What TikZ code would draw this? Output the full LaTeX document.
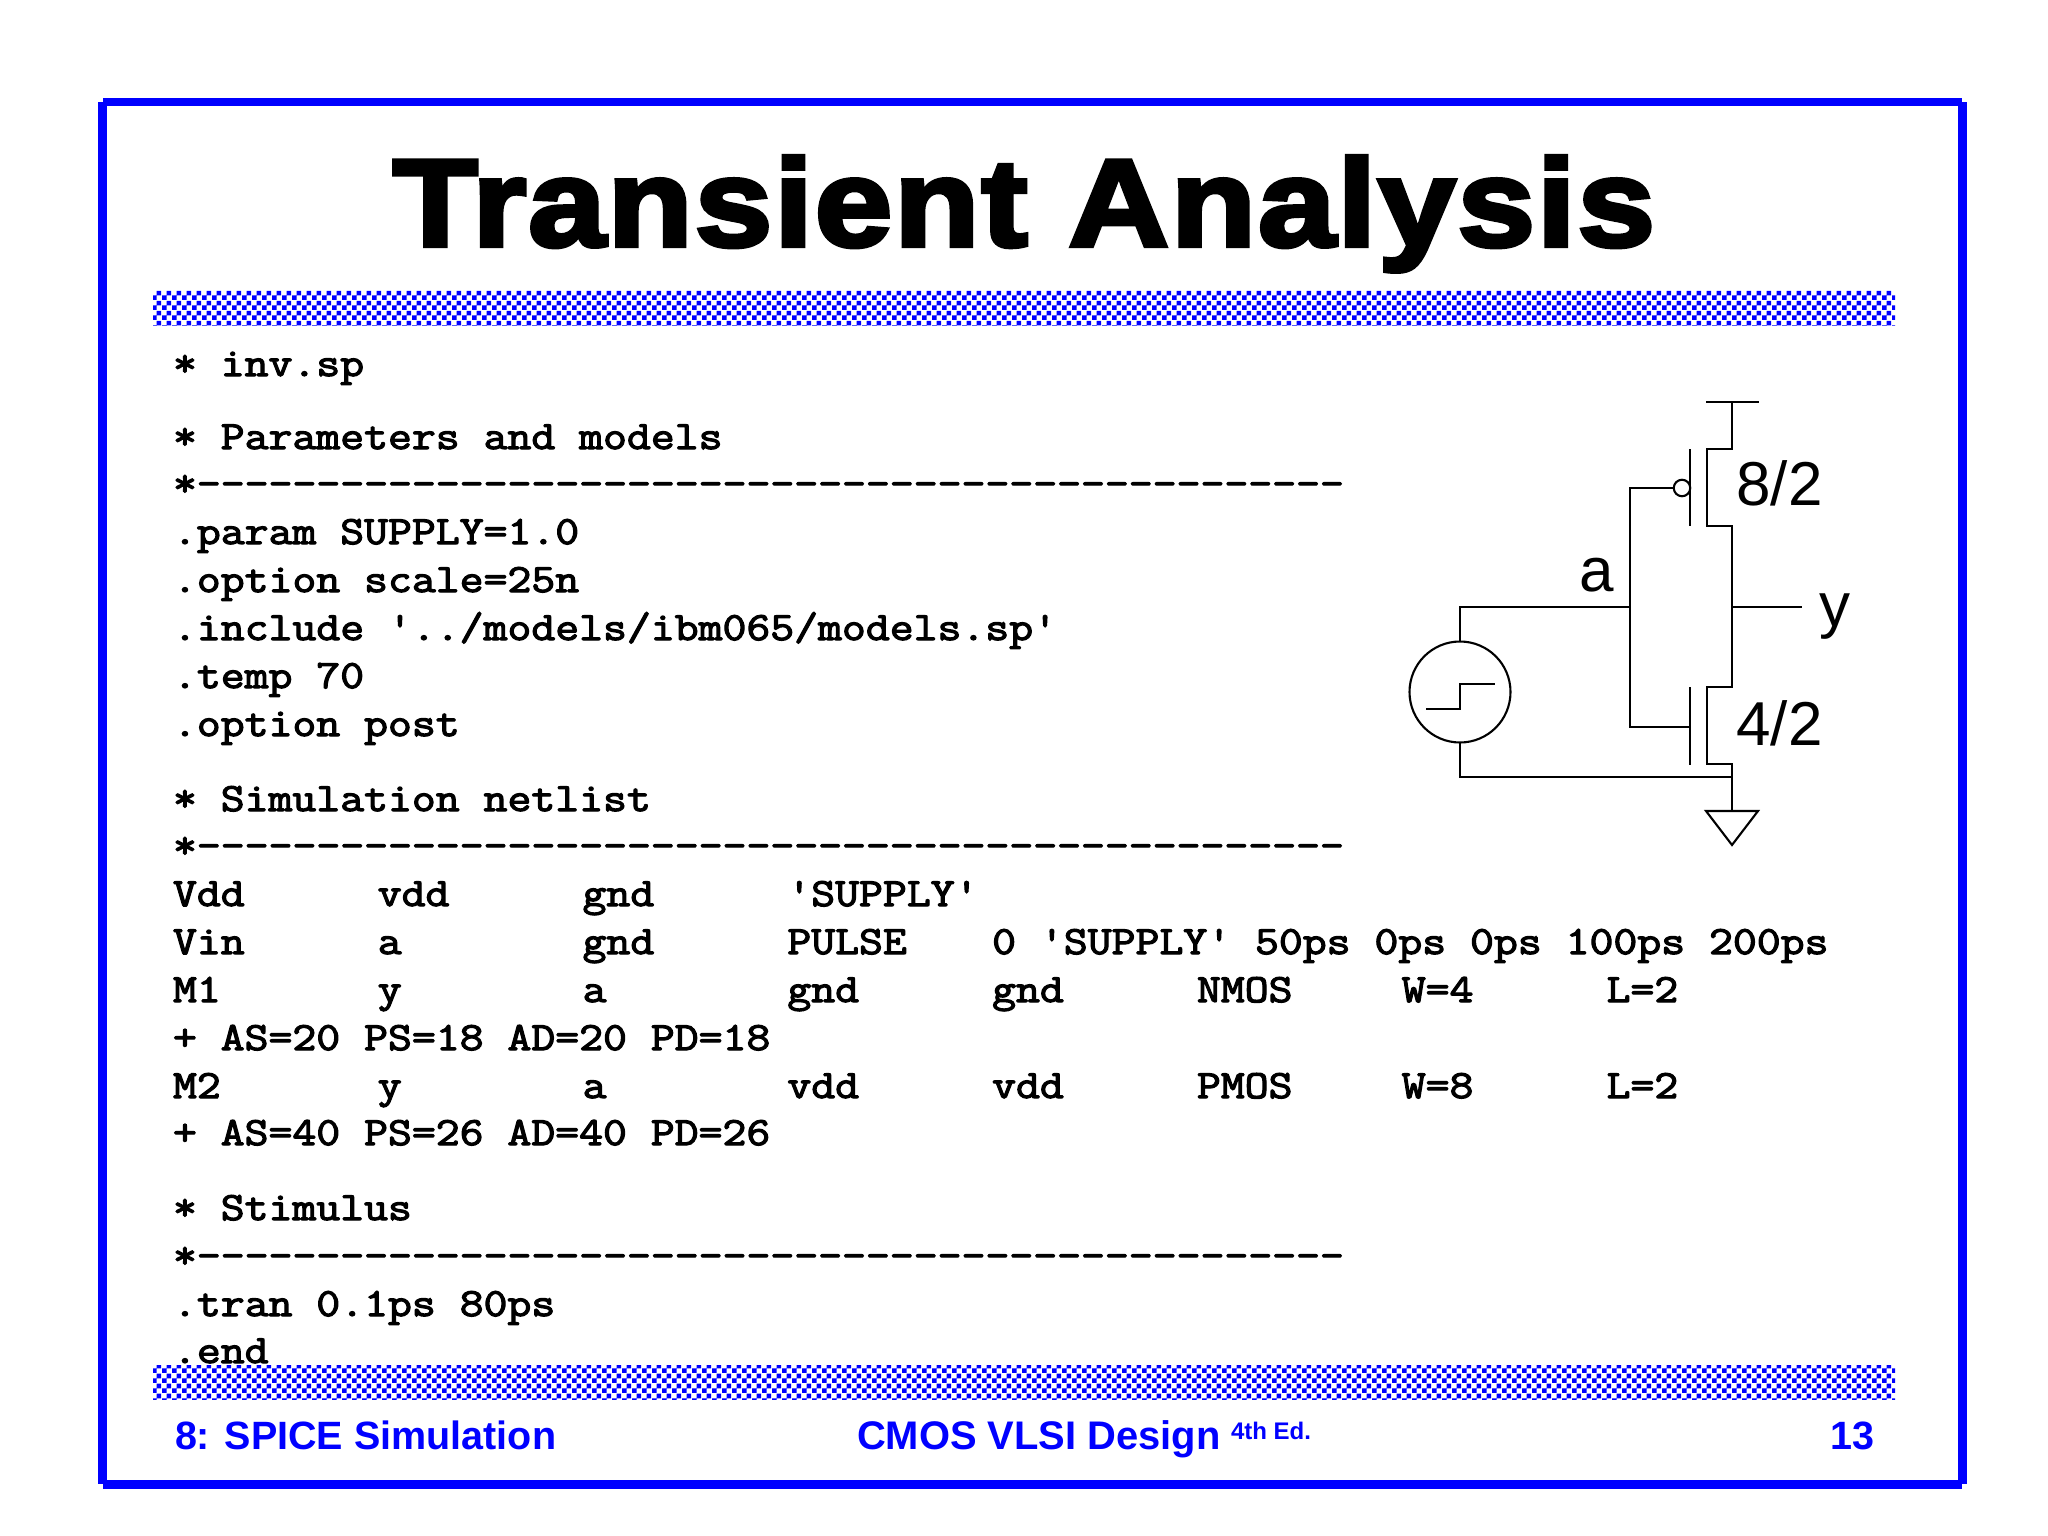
\documentclass[tikz,border=0pt]{standalone}
\usepackage{fontspec}
\usetikzlibrary{patterns}
\setmainfont{Liberation Sans}
\newfontfamily\titlefont[FakeBold=3.6,FakeStretch=1.125,LetterSpace=1.5]{Liberation Sans Bold}
\newfontfamily\codefont[FakeStretch=1.16,FakeBold=3]{Latin Modern Mono}
\newfontfamily\footfont{Liberation Sans Bold}
\definecolor{slideblue}{RGB}{0,0,255}
\pgfdeclarepatternformonly{slidecheck}{\pgfqpoint{0pt}{0pt}}{\pgfqpoint{9.5pt}{9.5pt}}{\pgfqpoint{9.5pt}{9.5pt}}{%
  \pgfpathrectangle{\pgfqpoint{0pt}{0pt}}{\pgfqpoint{4.75pt}{4.75pt}}%
  \pgfpathrectangle{\pgfqpoint{4.75pt}{4.75pt}}{\pgfqpoint{4.75pt}{4.75pt}}%
  \pgfusepath{fill}}
\newcommand{\codesize}{\fontsize{40}{40}\selectfont}
\newcommand{\cl}[1]{\makebox[204.8pt][l]{#1}}
\tikzset{
  x=1pt,y=-1pt,
  band/.style={pattern=slidecheck,pattern color=slideblue},
  framebar/.style={fill=slideblue},
  code/.style={anchor=base west,inner sep=0pt,outer sep=0pt,font=\codefont\codesize},
  foot/.style={inner sep=0pt,outer sep=0pt,text=slideblue,font=\footfont\fontsize{39.5}{40}\selectfont},
  lbl/.style={inner sep=0pt,outer sep=0pt,anchor=base west,font=\fontsize{62}{62}\selectfont},
  wire/.style={line width=2.1pt,line join=miter},
}
\begin{document}
\begin{tikzpicture}
\useasboundingbox (0,0) rectangle (2048,1536);
\fill[white] (0,0) rectangle (2048,1536);
\fill[framebar] (103,98) rectangle (1962,106.5);
\fill[framebar] (103,1480) rectangle (1962,1488.5);
\fill[framebar] (98,102) rectangle (106.5,1484);
\fill[framebar] (1958,102) rectangle (1966.5,1484);
\fill[band] (153,290) rectangle (1895,325);
\fill[band] (153,1365) rectangle (1895,1399);
\node[anchor=base,inner sep=0pt,font=\titlefont\fontsize{124}{124}\selectfont] (title) at (1024,246) {Transient Analysis};
\node[code] (l1) at (173,376) {* inv.sp};
\node[code] (l2) at (173,449) {* Parameters and models};
\node[code] (l3) at (173,496) {*------------------------------------------------};
\node[code] (l4) at (173,544) {.param SUPPLY=1.0};
\node[code] (l5) at (173,592) {.option scale=25n};
\node[code] (l6) at (173,640) {.include '../models/ibm065/models.sp'};
\node[code] (l7) at (173,688) {.temp 70};
\node[code] (l8) at (173,736) {.option post};
\node[code] (l9) at (173,811) {* Simulation netlist};
\node[code] (l10) at (173,858) {*------------------------------------------------};
\node[code] (l11) at (173,906) {\cl{Vdd}\cl{vdd}\cl{gnd}'SUPPLY'};
\node[code] (l12) at (173,954) {\cl{Vin}\cl{a}\cl{gnd}\cl{PULSE}0 'SUPPLY' 50ps 0ps 0ps 100ps 200ps};
\node[code] (l13) at (173,1002) {\cl{M1}\cl{y}\cl{a}\cl{gnd}\cl{gnd}\cl{NMOS}\cl{W=4}L=2};
\node[code] (l14) at (173,1050) {+ AS=20 PS=18 AD=20 PD=18};
\node[code] (l15) at (173,1098) {\cl{M2}\cl{y}\cl{a}\cl{vdd}\cl{vdd}\cl{PMOS}\cl{W=8}L=2};
\node[code] (l16) at (173,1145) {+ AS=40 PS=26 AD=40 PD=26};
\node[code] (l17) at (173,1220) {* Stimulus};
\node[code] (l18) at (173,1268) {*------------------------------------------------};
\node[code] (l19) at (173,1316) {.tran 0.1ps 80ps};
\node[code] (l20) at (173,1363) {.end};
\node[foot,anchor=base west] (f1) at (175,1449) {8: SPICE Simulation};
\node[foot,anchor=base west,font=\footfont\fontsize{39.9}{40}\selectfont] (f2) at (857,1449) {CMOS VLSI Design};
\node[foot,anchor=base west,font=\footfont\fontsize{24}{24}\selectfont] (f3) at (1231,1439) {4th Ed.};
\node[foot,anchor=base east] (f4) at (1874,1449) {13};
% schematic
\coordinate (vl) at (1706,402); \coordinate (vr) at (1759,402); \coordinate (vm) at (1732,402);
\coordinate (pd1) at (1732,449); \coordinate (pd2) at (1707,449);
\coordinate (pd3) at (1707,526); \coordinate (pd4) at (1732,526);
\coordinate (nd1) at (1732,687); \coordinate (nd2) at (1707,687);
\coordinate (nd3) at (1707,764); \coordinate (nd4) at (1732,764);
\coordinate (gndtop) at (1732,811);
\coordinate (gl) at (1706,811); \coordinate (gr) at (1758,811); \coordinate (ga) at (1732,845);
\coordinate (pg1) at (1690,449); \coordinate (pg2) at (1690,526);
\coordinate (ng1) at (1690,687); \coordinate (ng2) at (1690,765); \coordinate (ngw) at (1690,727);
\coordinate (gwp) at (1630,488); \coordinate (gwn) at (1630,727); \coordinate (aj) at (1630,607);
\coordinate (atop) at (1460,607); \coordinate (bot) at (1460,777); \coordinate (botr) at (1732,777);
\coordinate (yj) at (1732,607); \coordinate (yend) at (1802,607);
\coordinate (s1) at (1426,709); \coordinate (s2) at (1460,709); \coordinate (s3) at (1460,684); \coordinate (s4) at (1495,684);
\node[draw,wire,circle,inner sep=0pt,minimum size=101pt,outer sep=0pt] (src) at (1460,692) {};
\node[draw,wire,circle,inner sep=0pt,minimum size=16.5pt,outer sep=0pt] (bub) at (1682,488) {};
\draw[wire] (vl) -- (vr);
\draw[wire] (vm) -- (pd1) -- (pd2) -- (pd3) -- (pd4) -- (nd1) -- (nd2) -- (nd3) -- (nd4) -- (gndtop);
\draw[wire] (gl) -- (gr) -- (ga) -- cycle;
\draw[wire] (pg1) -- (pg2);
\draw[wire] (ng1) -- (ng2);
\draw[wire] (bub.west) -- (gwp) -- (gwn) -- (ngw);
\draw[wire] (aj) -- (atop) -- (src.north);
\draw[wire] (src.south) -- (bot) -- (botr);
\draw[wire] (yj) -- (yend);
\draw[wire] (s1) -- (s2) -- (s3) -- (s4);
\node[lbl] (w1) at (1736.5,505) {8/2};
\node[lbl] (w2) at (1736.5,745) {4/2};
\node[lbl] (a) at (1579,591) {a};
\node[lbl] (y) at (1819,626) {y};
\end{tikzpicture}
\end{document}
